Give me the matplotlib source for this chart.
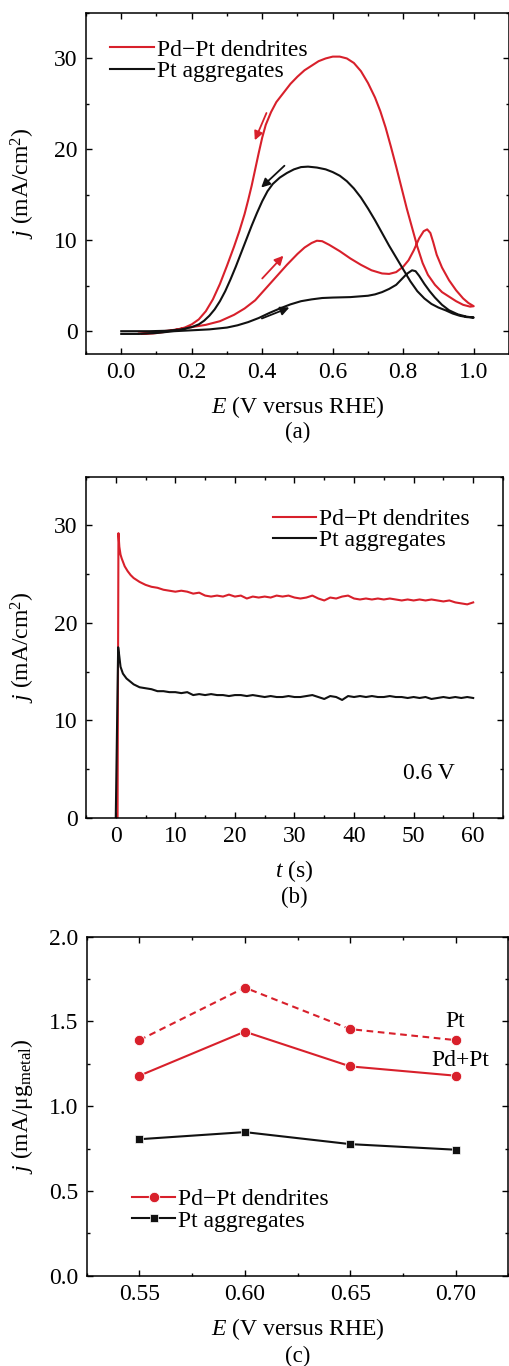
import matplotlib
matplotlib.use("Agg")
import matplotlib.pyplot as plt
from matplotlib.ticker import MultipleLocator, FormatStrFormatter

plt.rcParams["font.family"] = ["Liberation Serif", "DejaVu Serif"]
plt.rcParams["mathtext.fontset"] = "custom"
plt.rcParams["mathtext.rm"] = "Liberation Serif"
plt.rcParams["mathtext.it"] = "Liberation Serif:italic"

RED = "#d8202b"
BLACK = "#111111"

# ---- (a) cyclic voltammograms (forward then backward scan) ----
cv_red_E = [0.05, 0.08, 0.12, 0.16, 0.20, 0.24, 0.28, 0.32, 0.35, 0.38, 0.41, 0.44, 0.47, 0.50,
            0.52, 0.54, 0.555, 0.57, 0.59, 0.62, 0.65, 0.68, 0.71, 0.74, 0.76, 0.78, 0.80, 0.815,
            0.83, 0.845, 0.858, 0.868, 0.877, 0.885, 0.895, 0.91, 0.93, 0.95, 0.97, 0.985, 1.00,
            0.99, 0.97, 0.95, 0.93, 0.91, 0.89, 0.87, 0.855, 0.84, 0.825, 0.81, 0.795, 0.78,
            0.765, 0.75, 0.735, 0.72, 0.70, 0.68, 0.66, 0.64, 0.62, 0.60, 0.58, 0.56, 0.54,
            0.52, 0.50, 0.48, 0.46, 0.44, 0.425, 0.41, 0.40, 0.39, 0.38, 0.37, 0.36, 0.35, 0.335,
            0.32, 0.30, 0.28, 0.26, 0.24, 0.22, 0.20, 0.18, 0.15, 0.12, 0.09, 0.06]
cv_red_j = [-0.25, -0.2, 0.0, 0.2, 0.45, 0.7, 1.1, 1.8, 2.5, 3.4, 4.7, 6.0, 7.3, 8.5,
            9.2, 9.7, 9.95, 9.9, 9.5, 8.8, 8.0, 7.3, 6.7, 6.35, 6.3, 6.5, 7.1, 7.8,
            8.9, 10.2, 11.0, 11.2, 10.8, 9.8, 8.4, 7.0, 5.6, 4.5, 3.6, 3.1, 2.75,
            2.7, 2.9, 3.3, 3.8, 4.3, 5.1, 6.2, 7.5, 9.3, 11.4, 13.5, 15.8, 18.1,
            20.3, 22.4, 24.2, 25.7, 27.3, 28.6, 29.5, 30.0, 30.2, 30.2, 30.0, 29.7, 29.2,
            28.7, 28.0, 27.2, 26.2, 25.2, 24.1, 22.7, 21.3, 19.6, 17.8, 16.0, 14.4, 12.9, 11.0,
            9.3, 7.2, 5.2, 3.5, 2.2, 1.3, 0.75, 0.4, 0.1, -0.1, -0.25, -0.3]

cv_black_E = [0.00, 0.05, 0.10, 0.15, 0.20, 0.25, 0.30, 0.33, 0.36, 0.39, 0.42, 0.45, 0.48, 0.51,
              0.54, 0.57, 0.60, 0.65, 0.70, 0.72, 0.74, 0.76, 0.78, 0.795, 0.81, 0.825, 0.835,
              0.845, 0.86, 0.875, 0.89, 0.91, 0.93, 0.955, 0.98, 1.00,
              0.98, 0.96, 0.94, 0.92, 0.90, 0.88, 0.86, 0.84, 0.82, 0.80, 0.78, 0.76, 0.74,
              0.72, 0.70, 0.68, 0.66, 0.64, 0.62, 0.60, 0.58, 0.555, 0.53, 0.51, 0.49, 0.47,
              0.45, 0.43, 0.415, 0.40, 0.385, 0.37, 0.355, 0.34, 0.325, 0.31, 0.295, 0.28, 0.265,
              0.25, 0.235, 0.22, 0.20, 0.17, 0.13, 0.08, 0.00]
cv_black_j = [-0.3, -0.3, -0.2, 0.0, 0.1, 0.2, 0.4, 0.65, 1.0, 1.45, 2.0, 2.5, 2.95, 3.3,
              3.5, 3.65, 3.7, 3.75, 3.9, 4.05, 4.3, 4.65, 5.1, 5.7, 6.3, 6.7, 6.6,
              6.1, 5.2, 4.4, 3.7, 2.9, 2.3, 1.85, 1.6, 1.5,
              1.55, 1.7, 1.95, 2.3, 2.6, 3.0, 3.6, 4.4, 5.5, 6.8, 8.1, 9.4, 10.8,
              12.2, 13.5, 14.7, 15.7, 16.5, 17.1, 17.5, 17.8, 18.0, 18.1, 18.05, 17.8, 17.4,
              16.9, 16.2, 15.4, 14.3, 13.0, 11.6, 10.1, 8.6, 7.1, 5.7, 4.4, 3.3, 2.4,
              1.7, 1.15, 0.75, 0.45, 0.2, 0.05, 0.0, 0.0]

# scan-direction arrows: (E start, j start, E end, j end)
arrows_red = [(0.412, 24.0, 0.379, 21.0), (0.400, 5.8, 0.460, 8.3)]
arrows_black = [(0.463, 18.2, 0.397, 15.8), (0.399, 1.4, 0.477, 2.6)]

# ---- (b) chronoamperometry at 0.6 V ----
ca_red_t = [0.3, 0.45, 0.6, 0.8, 1.0, 1.5, 2.0, 2.5, 3.0, 4.0, 5.0, 6.0, 7.0, 8.0, 9.0] + list(range(10, 61))
ca_red_j = [0.0, 29.2, 27.8, 27.0, 26.6, 25.8, 25.3, 24.9, 24.6, 24.2, 23.9, 23.7, 23.6, 23.4, 23.3,
            23.2, 23.3, 23.2, 23.0, 23.1, 22.8, 22.7, 22.8, 22.7, 22.9,
            22.7, 22.8, 22.5, 22.7, 22.6, 22.7, 22.6, 22.8, 22.7, 22.8,
            22.6, 22.5, 22.6, 22.8, 22.5, 22.3, 22.6, 22.5, 22.7, 22.8,
            22.5, 22.4, 22.5, 22.4, 22.5, 22.4, 22.5, 22.4, 22.3, 22.4,
            22.3, 22.4, 22.3, 22.4, 22.3, 22.2, 22.3, 22.1, 22.0, 21.9, 22.1]
ca_black_t = [0.0, 0.4, 0.55, 0.8, 1.2, 1.8, 2.4, 3.0, 4.0, 5.0, 6.0, 7.0, 8.0, 9.0] + list(range(10, 61))
ca_black_j = [0.0, 17.5, 16.8, 15.5, 14.8, 14.3, 14.0, 13.7, 13.4, 13.3, 13.2, 13.0, 13.0, 12.9,
              12.9, 12.8, 12.9, 12.6, 12.7, 12.6, 12.7, 12.6, 12.6, 12.5,
              12.6, 12.6, 12.5, 12.6, 12.5, 12.4, 12.5, 12.4, 12.4, 12.5,
              12.4, 12.4, 12.5, 12.6, 12.4, 12.2, 12.5, 12.4, 12.1, 12.5,
              12.4, 12.5, 12.4, 12.5, 12.4, 12.4, 12.5, 12.4, 12.4, 12.3,
              12.4, 12.3, 12.4, 12.2, 12.3, 12.4, 12.3, 12.4, 12.3, 12.4, 12.3]

# ---- (c) mass activity vs potential ----
potentials = [0.55, 0.60, 0.65, 0.70]
pdpt_pt_mass = [1.39, 1.70, 1.455, 1.39]
pdpt_total_mass = [1.18, 1.44, 1.235, 1.18]
pt_agg_mass = [0.805, 0.847, 0.776, 0.743]

TICK_FS = 17
LABEL_FS = 17
LEG_FS = 17


def style_axes(ax, xmaj, xmin, ymaj, ymin):
    ax.xaxis.set_major_locator(MultipleLocator(xmaj))
    ax.xaxis.set_minor_locator(MultipleLocator(xmin))
    ax.yaxis.set_major_locator(MultipleLocator(ymaj))
    ax.yaxis.set_minor_locator(MultipleLocator(ymin))
    ax.tick_params(which="both", direction="in", top=True, right=True, width=1.0,
                   labelsize=TICK_FS, pad=6)
    ax.tick_params(which="major", length=4.5)
    ax.tick_params(which="minor", length=2.5)
    for sp in ax.spines.values():
        sp.set_linewidth(1.1)


def add_legend(ax, x, y):
    ax.legend(loc="center left", bbox_to_anchor=(x, y), frameon=False, fontsize=LEG_FS,
              handlelength=1.85, handletextpad=0.12, labelspacing=0.0,
              borderpad=0.0, borderaxespad=0.0)


fig = plt.figure(figsize=(5.10, 13.66), dpi=100)

# (a)
ax_a = fig.add_axes([0.1686, 0.7409, 0.8294, 0.2496])
ax_a.plot(cv_red_E, cv_red_j, color=RED, lw=1.5, label="Pd\u2212Pt dendrites")
ax_a.plot(cv_black_E, cv_black_j, color=BLACK, lw=1.5, label="Pt aggregates")
for arrows, color in [(arrows_red, RED), (arrows_black, BLACK)]:
    for x0, y0, x1, y1 in arrows:
        ax_a.annotate("", xy=(x1, y1), xytext=(x0, y0),
                      arrowprops=dict(arrowstyle="-|>", color=color, lw=1.3, mutation_scale=13,
                                      shrinkA=0, shrinkB=0))
ax_a.set_xlim(-0.1, 1.1)
ax_a.set_ylim(-2.5, 35)
style_axes(ax_a, 0.2, 0.1, 10, 5)
ax_a.xaxis.set_major_formatter(FormatStrFormatter("%.1f"))
ax_a.set_xlabel("$E$ (V versus RHE)", fontsize=LABEL_FS, labelpad=8)
ax_a.set_ylabel("$j$ (mA/cm$^2$)", fontsize=LABEL_FS, labelpad=12)
add_legend(ax_a, 0.057, 0.86)
fig.text(0.1686 + 0.8294 / 2, 1 - 432 / 1366, "(a)", ha="center", va="center", fontsize=16.5)

# (b)
ax_b = fig.add_axes([0.1686, 0.4012, 0.8176, 0.2499])
ax_b.plot(ca_red_t, ca_red_j, color=RED, lw=1.5, label="Pd\u2212Pt dendrites")
ax_b.plot(ca_black_t, ca_black_j, color=BLACK, lw=1.5, label="Pt aggregates")
ax_b.set_xlim(-5, 65)
ax_b.set_ylim(0, 35)
style_axes(ax_b, 10, 5, 10, 5)
ax_b.set_xlabel("$t$ (s)", fontsize=LABEL_FS, labelpad=8)
ax_b.set_ylabel("$j$ (mA/cm$^2$)", fontsize=LABEL_FS, labelpad=12)
add_legend(ax_b, 0.448, 0.844)
ax_b.text(52.6, 4.6, "0.6 V", ha="center", va="center", fontsize=LEG_FS)
fig.text(0.1686 + 0.8176 / 2, 1 - 897 / 1366, "(b)", ha="center", va="center", fontsize=16.5)

# (c)
ax_c = fig.add_axes([0.170, 0.0662, 0.8267, 0.2480])
ax_c.plot(potentials, pdpt_pt_mass, color=RED, lw=1.5, ls=(0, (3.2, 2.2)), marker="o", ms=7.5,
          mec="white", mew=0.6, mfc=RED)
ax_c.plot(potentials, pdpt_total_mass, color=RED, lw=1.5, marker="o", ms=7.5,
          mec="white", mew=0.6, mfc=RED, label="Pd\u2212Pt dendrites")
ax_c.plot(potentials, pt_agg_mass, color=BLACK, lw=1.5, marker="s", ms=6.2,
          mec="white", mew=0.5, mfc=BLACK, label="Pt aggregates")
ax_c.set_xlim(0.525, 0.725)
ax_c.set_ylim(0, 2.0)
style_axes(ax_c, 0.05, 0.025, 0.5, 0.25)
ax_c.xaxis.set_major_formatter(FormatStrFormatter("%.2f"))
ax_c.yaxis.set_major_formatter(FormatStrFormatter("%.1f"))
ax_c.text(0.70, 1.50, "Pt", ha="center", va="center", fontsize=LEG_FS)
ax_c.text(0.702, 1.27, "Pd+Pt", ha="center", va="center", fontsize=LEG_FS)
ax_c.set_xlabel("$E$ (V versus RHE)", fontsize=LABEL_FS, labelpad=8)
ax_c.set_ylabel("$j$ (mA/\u03bcg$_{\\rm metal}$)", fontsize=LABEL_FS, labelpad=10)
add_legend(ax_c, 0.107, 0.1935)
fig.text(0.170 + 0.8267 / 2, 1 - 1356 / 1366, "(c)", ha="center", va="center", fontsize=16.5)

fig.savefig("out.png", dpi=100)
